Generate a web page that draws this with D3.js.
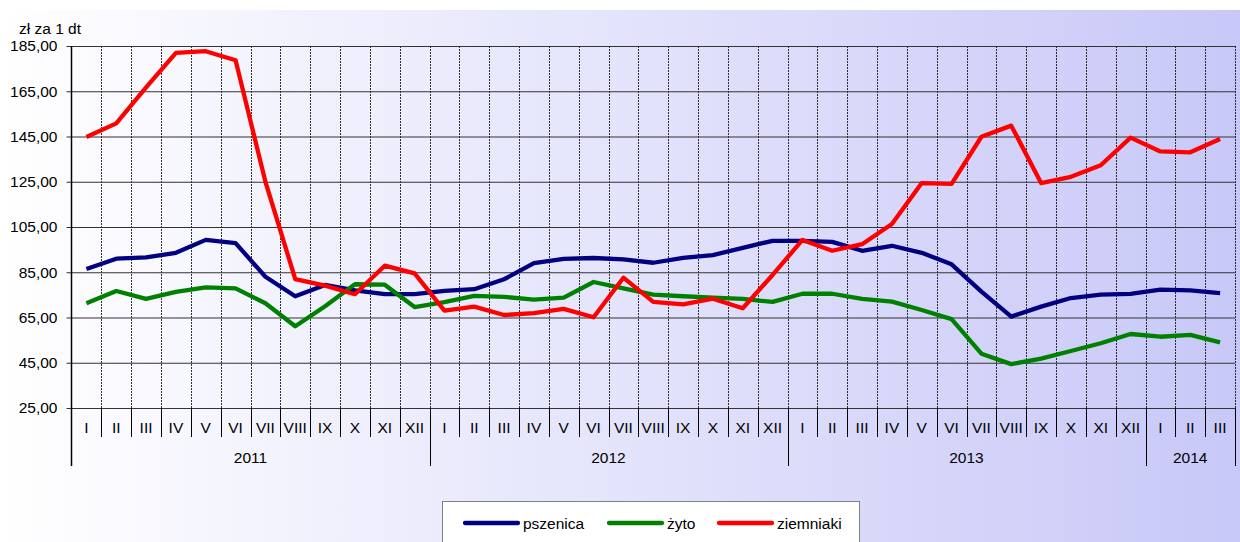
<!DOCTYPE html>
<html lang="pl">
<head>
  <meta charset="utf-8">
  <title>Ceny skupu</title>
  <script src="https://d3js.org/d3.v7.min.js"></script>
  <style>
    body { margin: 0; background: #fff; }
    text { font-family: Arial, "Liberation Sans", sans-serif; fill: #000; }
  </style>
</head>
<body>
<script>
// months and years on the category axis
var months = ["I","II","III","IV","V","VI","VII","VIII","IX","X","XI","XII",
              "I","II","III","IV","V","VI","VII","VIII","IX","X","XI","XII",
              "I","II","III","IV","V","VI","VII","VIII","IX","X","XI","XII",
              "I","II","III"];
var years = [
  { label: "2011", start: 0, end: 12 },
  { label: "2012", start: 12, end: 24 },
  { label: "2013", start: 24, end: 36 },
  { label: "2014", start: 36, end: 39 }
];
var yTicks = [25, 45, 65, 85, 105, 125, 145, 165, 185];

// prices, zl per 1 dt
var pszenica = [86.4, 91.0, 91.6, 93.6, 99.3, 97.9, 83.0, 74.4, 79.4, 77.0, 75.3, 75.3,
                76.8, 77.5, 81.9, 89.0, 90.9, 91.3, 90.7, 89.2, 91.4, 92.6, 95.8, 98.9,
                98.9, 98.4, 94.5, 96.7, 93.6, 88.5, 76.4, 65.4, 69.8, 73.6, 75.1, 75.4,
                77.3, 77.0, 75.8];
var zyto = [71.3, 76.7, 73.2, 76.3, 78.3, 77.9, 71.3, 61.1, 70.0, 79.7, 79.5, 69.6,
            71.8, 74.6, 74.1, 72.9, 73.8, 80.7, 77.9, 75.1, 74.4, 73.8, 73.2, 71.9,
            75.5, 75.5, 73.2, 72.0, 68.3, 64.3, 49.0, 44.4, 46.8, 50.2, 53.6, 57.7,
            56.5, 57.3, 54.0];
var ziemniaki = [144.8, 150.8, 166.7, 182.0, 182.7, 178.7, 125.0, 82.0, 79.1, 75.3, 87.9, 84.5,
                 68.0, 69.8, 66.1, 66.9, 68.8, 65.1, 82.6, 71.9, 70.8, 73.3, 69.1, 83.8,
                 99.3, 94.5, 97.4, 106.3, 124.4, 124.1, 144.9, 149.8, 124.4, 127.2, 132.3, 144.5,
                 138.4, 138.0, 143.9];

var series = [
  { name: "pszenica", values: pszenica, color: "#000080" },
  { name: "żyto", values: zyto, color: "#008000" },
  { name: "ziemniaki", values: ziemniaki, color: "#ff0000" }
];

var W = 1240, H = 542;
var plotLeft = 71.5, plotRight = 1235, plotTop = 46, plotBottom = 408;
var fontSize = "15.5px";

var svg = d3.select("body").append("svg")
  .attr("width", W)
  .attr("height", H);

// background gradient white -> lavender
var grad = svg.append("defs").append("linearGradient")
  .attr("id", "bg").attr("x1", "0").attr("x2", "1").attr("y1", "0").attr("y2", "0");
grad.append("stop").attr("offset", "0").attr("stop-color", "#ffffff");
grad.append("stop").attr("offset", "1").attr("stop-color", "#c8c8f8");
svg.append("rect")
  .attr("x", 0).attr("y", 10).attr("width", W).attr("height", H - 10)
  .attr("fill", "url(#bg)");

var x = d3.scaleBand()
  .domain(d3.range(months.length))
  .range([plotLeft, plotRight])
  .paddingInner(0).paddingOuter(0);
var bw = x.bandwidth();

var y = d3.scaleLinear().domain([25, 185]).range([plotBottom, plotTop]);

var plNum = d3.formatLocale({ decimal: ",", thousands: " ", grouping: [3], currency: ["", " zł"] }).format(".2f");

function edgeX(i) { return Math.round(plotLeft + i * bw) + 0.5; }

// vertical dotted gridlines
svg.append("g").selectAll("line")
  .data(d3.range(1, months.length + 1))
  .enter().append("line")
  .attr("x1", edgeX)
  .attr("x2", edgeX)
  .attr("y1", plotTop).attr("y2", plotBottom)
  .attr("stroke", "#000")
  .attr("stroke-width", 1)
  .attr("stroke-dasharray", "2,1")
  .attr("opacity", 0.8);

// y axis with horizontal grid (grid line pokes out left as a tick)
var yAxis = svg.append("g")
  .attr("transform", "translate(" + plotLeft + ",0)")
  .call(d3.axisLeft(y).tickValues(yTicks).tickSize(-(plotRight - plotLeft)).tickFormat(plNum));
yAxis.select(".domain").remove();
yAxis.selectAll(".tick line")
  .attr("x1", -5)
  .attr("stroke", "#333").attr("stroke-width", 1.2);
yAxis.selectAll(".tick text")
  .attr("x", -14)
  .style("font-family", "Arial, 'Liberation Sans', sans-serif")
  .style("font-size", fontSize)
  .attr("fill", "#000");

svg.append("line")
  .attr("x1", plotLeft).attr("x2", plotLeft).attr("y1", plotTop).attr("y2", 466)
  .attr("stroke", "#000").attr("stroke-width", 1.5);

svg.append("text")
  .attr("x", 19).attr("y", 34)
  .style("font-size", fontSize)
  .text("zł za 1 dt");

// month separators and labels
var catAxis = svg.append("g");
catAxis.selectAll("line.m")
  .data(d3.range(1, months.length + 1))
  .enter().append("line")
  .attr("class", "m")
  .attr("x1", edgeX)
  .attr("x2", edgeX)
  .attr("y1", plotBottom).attr("y2", 437)
  .attr("stroke", "#000").attr("stroke-width", 1);

catAxis.selectAll("text.m")
  .data(months)
  .enter().append("text")
  .attr("class", "m")
  .attr("x", function(d, i) { return x(i) + bw / 2; })
  .attr("y", 432.5)
  .attr("text-anchor", "middle")
  .style("font-size", fontSize)
  .text(function(d) { return d; });

catAxis.selectAll("line.yr")
  .data(years.slice(1).map(function(d) { return d.start; }).concat([months.length]))
  .enter().append("line")
  .attr("class", "yr")
  .attr("x1", edgeX)
  .attr("x2", edgeX)
  .attr("y1", plotBottom).attr("y2", 466)
  .attr("stroke", "#000").attr("stroke-width", 1);

catAxis.selectAll("text.yr")
  .data(years)
  .enter().append("text")
  .attr("class", "yr")
  .attr("x", function(d) { return plotLeft + (d.start + d.end) / 2 * bw; })
  .attr("y", 462.5)
  .attr("text-anchor", "middle")
  .style("font-size", fontSize)
  .text(function(d) { return d.label; });

// lines
var line = d3.line()
  .x(function(d, i) { return x(i) + bw / 2; })
  .y(function(d) { return y(d); });

svg.append("g").selectAll("path")
  .data(series)
  .enter().append("path")
  .attr("d", function(s) { return line(s.values); })
  .attr("fill", "none")
  .attr("stroke", function(s) { return s.color; })
  .attr("stroke-width", 4.3)
  .attr("stroke-linejoin", "round");

// legend
var legend = svg.append("g");
legend.append("rect")
  .attr("x", 442.5).attr("y", 501.5).attr("width", 417).attr("height", 60)
  .attr("fill", "#fff").attr("stroke", "#808080").attr("stroke-width", 1);

var legX = [465, 609, 719];
var item = legend.selectAll("g.item")
  .data(series)
  .enter().append("g")
  .attr("class", "item")
  .attr("transform", function(d, i) { return "translate(" + legX[i] + ",523)"; });
item.append("line")
  .attr("x1", 0).attr("x2", 53).attr("y1", 0).attr("y2", 0)
  .attr("stroke", function(d) { return d.color; })
  .attr("stroke-width", 4.3)
  .attr("stroke-linecap", "round");
item.append("text")
  .attr("x", 58).attr("y", 5.5)
  .style("font-size", fontSize)
  .text(function(d) { return d.name; });
</script>
</body>
</html>
